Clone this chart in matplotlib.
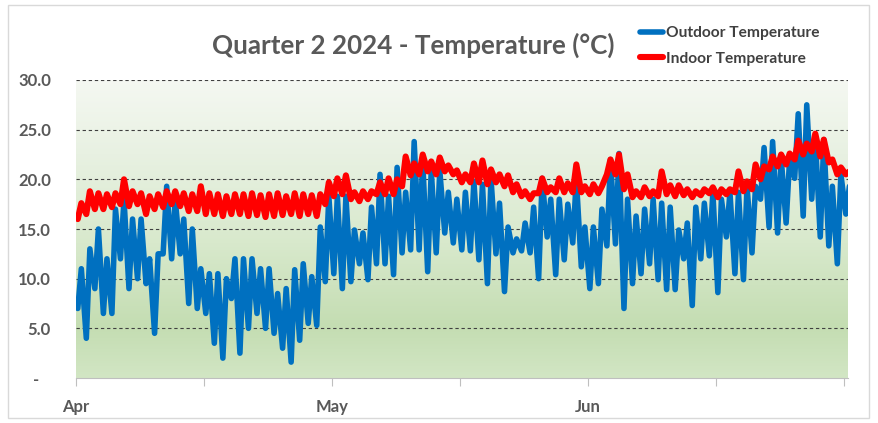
import numpy as np
import matplotlib.pyplot as plt
from matplotlib.colors import LinearSegmentedColormap
from matplotlib.patches import Rectangle

# daily lows / highs, 1 Apr .. 30 Jun 2024 (91 days)
outdoor_low = [
    7.0, 4.0, 9.0, 6.5, 6.5, 12.0, 9.0, 10.0, 9.5, 4.5,
    12.5, 12.0, 12.5, 7.5, 7.0, 6.5, 3.5, 2.0, 8.0, 2.5,
    5.0, 6.5, 5.0, 4.5, 3.0, 1.6, 3.8, 5.5, 5.3, 9.7,
    10.5, 9.0, 9.7, 11.5, 9.9, 11.5, 11.5, 10.4, 12.6, 12.9,
    12.9, 10.7, 12.6, 14.6, 13.6, 12.9, 12.8, 11.9, 9.5, 12.5,
    8.7, 12.6, 12.8, 12.6, 10.0, 14.2, 10.4, 11.9, 13.6, 11.2,
    9.0, 9.5, 13.3, 13.5, 7.0, 9.5, 10.5, 11.5, 9.9, 8.9,
    8.9, 12.0, 7.3, 12.0, 12.3, 8.6, 14.2, 10.5, 9.9, 12.6,
    18.0, 15.2, 14.6, 15.6, 20.1, 16.3, 18.0, 14.2, 13.3, 11.5, 16.5,
]
outdoor_high = [
    11.0, 13.0, 15.0, 12.0, 17.0, 18.0, 16.0, 16.0, 12.0, 12.5,
    19.3, 18.0, 16.0, 15.0, 11.0, 10.5, 10.5, 10.0, 12.0, 12.0,
    12.0, 11.0, 11.0, 8.5, 9.0, 10.9, 11.5, 10.2, 15.2, 18.3,
    18.3, 18.3, 14.9, 14.6, 17.2, 20.5, 18.3, 21.2, 18.7, 23.8,
    21.9, 20.9, 20.9, 18.7, 18.0, 18.7, 19.8, 19.5, 20.1, 17.6,
    15.2, 14.0, 15.6, 17.2, 20.1, 18.0, 18.0, 17.5, 20.1, 15.2,
    15.2, 17.0, 22.0, 22.6, 18.0, 16.3, 17.0, 18.0, 17.6, 17.2,
    14.9, 15.6, 17.2, 17.6, 18.7, 18.0, 18.7, 18.7, 19.3, 19.3,
    23.2, 23.8, 22.2, 22.2, 26.6, 27.5, 24.2, 24.0, 19.3, 20.5, 19.3,
]
indoor_low = [
    16.0, 16.5, 17.0, 17.0, 17.2, 17.5, 17.3, 17.5, 16.5, 17.0,
    17.2, 17.5, 17.3, 16.8, 16.8, 16.5, 16.5, 16.3, 16.5, 16.5,
    16.3, 16.4, 16.2, 16.3, 16.4, 16.5, 16.3, 16.5, 16.3, 17.5,
    18.3, 18.5, 18.0, 17.8, 18.0, 18.5, 18.5, 18.5, 19.3, 20.4,
    20.5, 20.8, 20.5, 20.8, 20.5, 19.7, 19.7, 19.7, 19.5, 19.7,
    19.3, 18.7, 18.3, 18.0, 18.6, 18.7, 18.7, 18.7, 18.7, 18.7,
    18.5, 18.6, 20.5, 20.5, 19.0, 18.2, 18.2, 18.3, 18.3, 18.5,
    18.3, 18.4, 18.2, 18.4, 18.6, 18.2, 18.5, 18.7, 18.8, 19.0,
    20.0, 21.0, 21.3, 21.5, 22.0, 22.5, 22.8, 22.3, 21.7, 20.5, 20.5,
]
indoor_high = [
    17.6, 18.8, 18.6, 18.5, 18.6, 20.0, 18.8, 18.6, 18.3, 18.5,
    18.8, 18.8, 18.6, 18.5, 19.3, 18.6, 18.5, 18.3, 18.5, 18.5,
    18.6, 18.4, 18.5, 18.6, 18.3, 18.6, 18.5, 18.4, 18.5, 19.7,
    20.1, 20.4, 18.7, 18.8, 18.8, 19.7, 20.1, 20.0, 22.3, 21.6,
    22.5, 21.8, 22.2, 21.4, 20.9, 20.5, 21.6, 21.9, 21.0, 20.5,
    20.4, 19.5, 18.8, 18.6, 20.1, 19.2, 20.1, 19.6, 21.5, 19.3,
    19.5, 19.3, 22.0, 22.5, 20.5, 18.8, 19.2, 18.8, 20.8, 19.4,
    19.4, 19.0, 18.8, 19.0, 19.2, 19.0, 19.0, 20.8, 19.8, 21.5,
    21.3, 22.3, 22.5, 22.6, 23.9, 23.6, 24.6, 24.0, 22.0, 21.2, 20.8,
]
month_labels = ["Apr", "May", "Jun"]

W, H = 879, 423
fig = plt.figure(figsize=(W / 100, H / 100), dpi=100)
ax = fig.add_axes([76 / W, 45 / H, (848 - 76) / W, (378 - 80) / H])


def hourly(lows, highs, t_low=5, t_high=15):
    # put each day's low in the early morning and high in the afternoon
    days = np.arange(len(lows))
    t = np.column_stack([days * 24 + t_low, days * 24 + t_high]).ravel()
    v = np.column_stack([lows, highs]).ravel()
    return t, v


t_out, v_out = hourly(outdoor_low, outdoor_high)
t_in, v_in = hourly(indoor_low, indoor_high)

xmax = 2171

# green gradient plot area
cmap = LinearSegmentedColormap.from_list(
    "bg",
    [(0.0, "#d2e6c4"), (0.17, "#c4ddb2"), (0.45, "#d8e9cc"),
     (0.75, "#e8f1e2"), (1.0, "#f5f8f2")],
)
grad = np.linspace(0, 1, 256).reshape(-1, 1)
ax.imshow(grad, extent=[0, xmax, 0, 30], origin="lower", aspect="auto",
          cmap=cmap, zorder=0)

for y in range(5, 35, 5):
    ax.axhline(y, color="#404040", lw=0.8, ls=(0, (3, 2.5)), zorder=1)

ax.plot(t_out, v_out, color="#0070c0", lw=4.0, zorder=3,
        solid_joinstyle="round", solid_capstyle="round",
        label="Outdoor Temperature")
ax.plot(t_in, v_in, color="#ff0000", lw=4.4, zorder=4,
        solid_joinstyle="round", solid_capstyle="round",
        label="Indoor Temperature")

ax.set_xlim(0, xmax)
ax.set_ylim(0, 30)

for s in ["left", "right", "top"]:
    ax.spines[s].set_visible(False)
ax.spines["bottom"].set_color("#bfbfbf")

ax.set_yticks(range(0, 35, 5))
ax.set_yticklabels(["-   "] + [f"{v:.1f}" for v in range(5, 35, 5)])
ax.tick_params(axis="y", length=0, pad=18, labelsize=12,
               labelcolor="#595959")
ax.set_xticks(range(0, 2161, 360))
ax.set_xticklabels([month_labels[0], "", month_labels[1], "", month_labels[2], "", ""])
ax.tick_params(axis="x", length=6, color="#bfbfbf", pad=9,
               labelsize=12, labelcolor="#595959")
for lab in ax.get_xticklabels() + ax.get_yticklabels():
    lab.set_fontweight("bold")
    lab.set_family("Lato")

fig.text(413 / W, 1 - 45 / H, "Quarter 2 2024 - Temperature (°C)",
         ha="center", va="center", fontsize=18.7, fontweight="bold",
         color="#595959", family="Lato")

leg = ax.legend(loc="upper left", bbox_to_anchor=(640 / W, 1 - 26 / H),
                bbox_transform=fig.transFigure, frameon=False,
                handlelength=1.5, handletextpad=0.15, labelspacing=0.75,
                borderaxespad=0, borderpad=0,
                prop={"family": "Lato", "weight": "bold", "size": 11.2})
for text in leg.get_texts():
    text.set_color("#404040")

fig.patches.append(Rectangle((8 / W, 5 / H), 861 / W, 413 / H,
                             transform=fig.transFigure, fill=False,
                             edgecolor="#d9d9d9", lw=1))

fig.savefig("out.png", dpi=100)
